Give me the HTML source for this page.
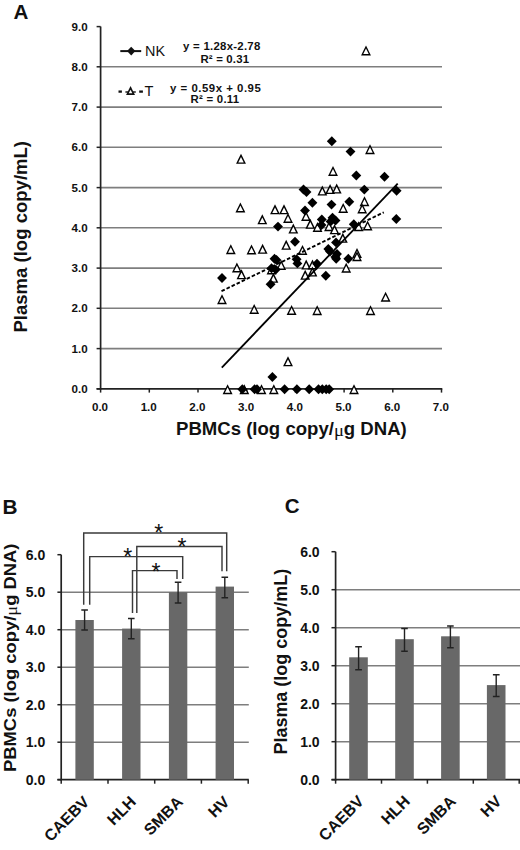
<!DOCTYPE html>
<html><head><meta charset="utf-8"><title>Figure</title>
<style>
html,body{margin:0;padding:0;background:#fff;}
body{width:520px;height:850px;overflow:hidden;}
svg{display:block;}
text{font-family:"Liberation Sans", sans-serif;fill:#111;}
</style></head>
<body>
<svg width="520" height="850" viewBox="0 0 520 850">
<rect width="520" height="850" fill="#fff"/>
<text x="13.4" y="18.6" font-size="20.6" font-weight="bold">A</text>
<line x1="100.6" y1="348.6" x2="442.0" y2="348.6" stroke="#7e7e7e" stroke-width="1.6"/>
<line x1="100.6" y1="308.3" x2="442.0" y2="308.3" stroke="#7e7e7e" stroke-width="1.6"/>
<line x1="100.6" y1="268.1" x2="442.0" y2="268.1" stroke="#7e7e7e" stroke-width="1.6"/>
<line x1="100.6" y1="227.8" x2="442.0" y2="227.8" stroke="#7e7e7e" stroke-width="1.6"/>
<line x1="100.6" y1="187.6" x2="442.0" y2="187.6" stroke="#7e7e7e" stroke-width="1.6"/>
<line x1="100.6" y1="147.3" x2="442.0" y2="147.3" stroke="#7e7e7e" stroke-width="1.6"/>
<line x1="100.6" y1="107.1" x2="442.0" y2="107.1" stroke="#7e7e7e" stroke-width="1.6"/>
<line x1="100.6" y1="66.8" x2="442.0" y2="66.8" stroke="#7e7e7e" stroke-width="1.6"/>
<line x1="100.6" y1="26.6" x2="100.6" y2="389.6" stroke="#222" stroke-width="1.7"/>
<line x1="96.6" y1="388.8" x2="100.6" y2="388.8" stroke="#222" stroke-width="1.5"/>
<text x="87.6" y="392.9" font-size="11.6" font-weight="bold" text-anchor="end">0.0</text>
<line x1="96.6" y1="348.6" x2="100.6" y2="348.6" stroke="#222" stroke-width="1.5"/>
<text x="87.6" y="352.7" font-size="11.6" font-weight="bold" text-anchor="end">1.0</text>
<line x1="96.6" y1="308.3" x2="100.6" y2="308.3" stroke="#222" stroke-width="1.5"/>
<text x="87.6" y="312.4" font-size="11.6" font-weight="bold" text-anchor="end">2.0</text>
<line x1="96.6" y1="268.1" x2="100.6" y2="268.1" stroke="#222" stroke-width="1.5"/>
<text x="87.6" y="272.2" font-size="11.6" font-weight="bold" text-anchor="end">3.0</text>
<line x1="96.6" y1="227.8" x2="100.6" y2="227.8" stroke="#222" stroke-width="1.5"/>
<text x="87.6" y="231.9" font-size="11.6" font-weight="bold" text-anchor="end">4.0</text>
<line x1="96.6" y1="187.6" x2="100.6" y2="187.6" stroke="#222" stroke-width="1.5"/>
<text x="87.6" y="191.7" font-size="11.6" font-weight="bold" text-anchor="end">5.0</text>
<line x1="96.6" y1="147.3" x2="100.6" y2="147.3" stroke="#222" stroke-width="1.5"/>
<text x="87.6" y="151.4" font-size="11.6" font-weight="bold" text-anchor="end">6.0</text>
<line x1="96.6" y1="107.1" x2="100.6" y2="107.1" stroke="#222" stroke-width="1.5"/>
<text x="87.6" y="111.2" font-size="11.6" font-weight="bold" text-anchor="end">7.0</text>
<line x1="96.6" y1="66.8" x2="100.6" y2="66.8" stroke="#222" stroke-width="1.5"/>
<text x="87.6" y="70.9" font-size="11.6" font-weight="bold" text-anchor="end">8.0</text>
<line x1="96.6" y1="26.6" x2="100.6" y2="26.6" stroke="#222" stroke-width="1.5"/>
<text x="87.6" y="30.7" font-size="11.6" font-weight="bold" text-anchor="end">9.0</text>
<line x1="96.6" y1="388.8" x2="442.3" y2="388.8" stroke="#222" stroke-width="1.7"/>
<line x1="100.6" y1="388.8" x2="100.6" y2="392.6" stroke="#222" stroke-width="1.5"/>
<text x="100.0" y="410.8" font-size="11.6" font-weight="bold" text-anchor="middle">0.0</text>
<line x1="149.3" y1="388.8" x2="149.3" y2="392.6" stroke="#222" stroke-width="1.5"/>
<text x="148.7" y="410.8" font-size="11.6" font-weight="bold" text-anchor="middle">1.0</text>
<line x1="198.0" y1="388.8" x2="198.0" y2="392.6" stroke="#222" stroke-width="1.5"/>
<text x="197.4" y="410.8" font-size="11.6" font-weight="bold" text-anchor="middle">2.0</text>
<line x1="246.7" y1="388.8" x2="246.7" y2="392.6" stroke="#222" stroke-width="1.5"/>
<text x="246.1" y="410.8" font-size="11.6" font-weight="bold" text-anchor="middle">3.0</text>
<line x1="295.4" y1="388.8" x2="295.4" y2="392.6" stroke="#222" stroke-width="1.5"/>
<text x="294.8" y="410.8" font-size="11.6" font-weight="bold" text-anchor="middle">4.0</text>
<line x1="344.1" y1="388.8" x2="344.1" y2="392.6" stroke="#222" stroke-width="1.5"/>
<text x="343.5" y="410.8" font-size="11.6" font-weight="bold" text-anchor="middle">5.0</text>
<line x1="392.8" y1="388.8" x2="392.8" y2="392.6" stroke="#222" stroke-width="1.5"/>
<text x="392.2" y="410.8" font-size="11.6" font-weight="bold" text-anchor="middle">6.0</text>
<line x1="441.5" y1="388.8" x2="441.5" y2="392.6" stroke="#222" stroke-width="1.5"/>
<text x="440.9" y="410.8" font-size="11.6" font-weight="bold" text-anchor="middle">7.0</text>
<text x="176.0" y="435.0" font-size="17.5" font-weight="bold" textLength="230.8" lengthAdjust="spacingAndGlyphs">PBMCs (log copy/<tspan font-family="Liberation Serif" font-weight="normal" dy="0.8">μ</tspan><tspan dy="-0.8">g DNA)</tspan></text>
<text transform="translate(27.0,332.5) rotate(-90)" x="0" y="0" font-size="18.3" font-weight="bold" textLength="191.5" lengthAdjust="spacingAndGlyphs">Plasma (log copy/mL)</text>
<line x1="120.3" y1="51.1" x2="141.2" y2="51.1" stroke="#111" stroke-width="2"/>
<path d="M131.2 46.8 L135.4 51.1 L131.2 55.4 L127 51.1Z" fill="#111"/>
<text x="145.0" y="56.0" font-size="14.4">NK</text>
<line x1="118.5" y1="91.6" x2="121.9" y2="91.6" stroke="#111" stroke-width="2.3"/>
<line x1="139.2" y1="91.6" x2="142.9" y2="91.6" stroke="#111" stroke-width="2.3"/>
<line x1="125.4" y1="92.0" x2="135.8" y2="92.0" stroke="#111" stroke-width="1.4"/>
<path d="M130.55 85.89L135.01 94.91L126.09 94.91Z" fill="#111"/><path d="M130.55 89.64L128.76 93.25L132.34 93.25Z" fill="#fff"/>
<text x="144.5" y="95.7" font-size="14.6">T</text>
<text x="183.0" y="50.0" font-size="11.4" font-weight="bold" textLength="77.3" lengthAdjust="spacing">y = 1.28x-2.78</text>
<text x="200.4" y="62.9" font-size="11.4" font-weight="bold" textLength="48.7" lengthAdjust="spacing">R² = 0.31</text>
<text x="170.0" y="92.3" font-size="11.4" font-weight="bold" textLength="90.8" lengthAdjust="spacing">y = 0.59x + 0.95</text>
<text x="190.4" y="103.0" font-size="11.4" font-weight="bold" textLength="48.8" lengthAdjust="spacing">R² = 0.11</text>
<path d="M366.00 45.40L370.94 55.40L361.06 55.40Z" fill="#000"/><path d="M366.00 48.52L363.28 54.01L368.72 54.01Z" fill="#fff"/>
<path d="M370.00 144.20L374.94 154.20L365.06 154.20Z" fill="#000"/><path d="M370.00 147.32L367.28 152.81L372.72 152.81Z" fill="#fff"/>
<path d="M241.00 153.80L245.94 163.80L236.06 163.80Z" fill="#000"/><path d="M241.00 156.92L238.28 162.41L243.72 162.41Z" fill="#fff"/>
<path d="M333.00 166.00L337.94 176.00L328.06 176.00Z" fill="#000"/><path d="M333.00 169.12L330.28 174.61L335.72 174.61Z" fill="#fff"/>
<path d="M240.40 202.40L245.34 212.40L235.46 212.40Z" fill="#000"/><path d="M240.40 205.52L237.68 211.01L243.12 211.01Z" fill="#fff"/>
<path d="M275.00 204.30L279.94 214.30L270.06 214.30Z" fill="#000"/><path d="M275.00 207.42L272.28 212.91L277.72 212.91Z" fill="#fff"/>
<path d="M284.00 204.30L288.94 214.30L279.06 214.30Z" fill="#000"/><path d="M284.00 207.42L281.28 212.91L286.72 212.91Z" fill="#fff"/>
<path d="M262.30 214.30L267.24 224.30L257.36 224.30Z" fill="#000"/><path d="M262.30 217.42L259.58 222.91L265.02 222.91Z" fill="#fff"/>
<path d="M288.00 213.00L292.94 223.00L283.06 223.00Z" fill="#000"/><path d="M288.00 216.12L285.28 221.61L290.72 221.61Z" fill="#fff"/>
<path d="M322.30 185.60L327.24 195.60L317.36 195.60Z" fill="#000"/><path d="M322.30 188.72L319.58 194.21L325.02 194.21Z" fill="#fff"/>
<path d="M330.10 184.10L335.04 194.10L325.16 194.10Z" fill="#000"/><path d="M330.10 187.22L327.38 192.71L332.82 192.71Z" fill="#fff"/>
<path d="M336.70 183.60L341.64 193.60L331.76 193.60Z" fill="#000"/><path d="M336.70 186.72L333.98 192.21L339.42 192.21Z" fill="#fff"/>
<path d="M343.20 203.00L348.14 213.00L338.26 213.00Z" fill="#000"/><path d="M343.20 206.12L340.48 211.61L345.92 211.61Z" fill="#fff"/>
<path d="M364.50 196.20L369.44 206.20L359.56 206.20Z" fill="#000"/><path d="M364.50 199.32L361.78 204.81L367.22 204.81Z" fill="#fff"/>
<path d="M362.20 203.40L367.14 213.40L357.26 213.40Z" fill="#000"/><path d="M362.20 206.52L359.48 212.01L364.92 212.01Z" fill="#fff"/>
<path d="M306.00 211.00L310.94 221.00L301.06 221.00Z" fill="#000"/><path d="M306.00 214.12L303.28 219.61L308.72 219.61Z" fill="#fff"/>
<path d="M310.30 218.80L315.24 228.80L305.36 228.80Z" fill="#000"/><path d="M310.30 221.92L307.58 227.41L313.02 227.41Z" fill="#fff"/>
<path d="M317.50 222.00L322.44 232.00L312.56 232.00Z" fill="#000"/><path d="M317.50 225.12L314.78 230.61L320.22 230.61Z" fill="#fff"/>
<path d="M329.00 221.20L333.94 231.20L324.06 231.20Z" fill="#000"/><path d="M329.00 224.32L326.28 229.81L331.72 229.81Z" fill="#fff"/>
<path d="M334.50 224.30L339.44 234.30L329.56 234.30Z" fill="#000"/><path d="M334.50 227.42L331.78 232.91L337.22 232.91Z" fill="#fff"/>
<path d="M358.60 221.20L363.54 231.20L353.66 231.20Z" fill="#000"/><path d="M358.60 224.32L355.88 229.81L361.32 229.81Z" fill="#fff"/>
<path d="M367.60 220.40L372.54 230.40L362.66 230.40Z" fill="#000"/><path d="M367.60 223.52L364.88 229.01L370.32 229.01Z" fill="#fff"/>
<path d="M293.30 223.60L298.24 233.60L288.36 233.60Z" fill="#000"/><path d="M293.30 226.72L290.58 232.21L296.02 232.21Z" fill="#fff"/>
<path d="M230.80 244.20L235.74 254.20L225.86 254.20Z" fill="#000"/><path d="M230.80 247.32L228.08 252.81L233.52 252.81Z" fill="#fff"/>
<path d="M251.50 244.50L256.44 254.50L246.56 254.50Z" fill="#000"/><path d="M251.50 247.62L248.78 253.11L254.22 253.11Z" fill="#fff"/>
<path d="M262.60 243.80L267.54 253.80L257.66 253.80Z" fill="#000"/><path d="M262.60 246.92L259.88 252.41L265.32 252.41Z" fill="#fff"/>
<path d="M286.20 239.80L291.14 249.80L281.26 249.80Z" fill="#000"/><path d="M286.20 242.92L283.48 248.41L288.92 248.41Z" fill="#fff"/>
<path d="M302.50 245.00L307.44 255.00L297.56 255.00Z" fill="#000"/><path d="M302.50 248.12L299.78 253.61L305.22 253.61Z" fill="#fff"/>
<path d="M342.80 232.80L347.74 242.80L337.86 242.80Z" fill="#000"/><path d="M342.80 235.92L340.08 241.41L345.52 241.41Z" fill="#fff"/>
<path d="M357.00 248.00L361.94 258.00L352.06 258.00Z" fill="#000"/><path d="M357.00 251.12L354.28 256.61L359.72 256.61Z" fill="#fff"/>
<path d="M357.00 251.20L361.94 261.20L352.06 261.20Z" fill="#000"/><path d="M357.00 254.32L354.28 259.81L359.72 259.81Z" fill="#fff"/>
<path d="M236.90 262.40L241.84 272.40L231.96 272.40Z" fill="#000"/><path d="M236.90 265.52L234.18 271.01L239.62 271.01Z" fill="#fff"/>
<path d="M241.50 269.30L246.44 279.30L236.56 279.30Z" fill="#000"/><path d="M241.50 272.42L238.78 277.91L244.22 277.91Z" fill="#fff"/>
<path d="M281.20 260.00L286.14 270.00L276.26 270.00Z" fill="#000"/><path d="M281.20 263.12L278.48 268.61L283.92 268.61Z" fill="#fff"/>
<path d="M306.20 259.60L311.14 269.60L301.26 269.60Z" fill="#000"/><path d="M306.20 262.72L303.48 268.21L308.92 268.21Z" fill="#fff"/>
<path d="M312.50 259.40L317.44 269.40L307.56 269.40Z" fill="#000"/><path d="M312.50 262.52L309.78 268.01L315.22 268.01Z" fill="#fff"/>
<path d="M305.20 269.80L310.14 279.80L300.26 279.80Z" fill="#000"/><path d="M305.20 272.92L302.48 278.41L307.92 278.41Z" fill="#fff"/>
<path d="M312.40 266.60L317.34 276.60L307.46 276.60Z" fill="#000"/><path d="M312.40 269.72L309.68 275.21L315.12 275.21Z" fill="#fff"/>
<path d="M273.40 272.80L278.34 282.80L268.46 282.80Z" fill="#000"/><path d="M273.40 275.92L270.68 281.41L276.12 281.41Z" fill="#fff"/>
<path d="M346.20 262.70L351.14 272.70L341.26 272.70Z" fill="#000"/><path d="M346.20 265.82L343.48 271.31L348.92 271.31Z" fill="#fff"/>
<path d="M222.00 294.20L226.94 304.20L217.06 304.20Z" fill="#000"/><path d="M222.00 297.32L219.28 302.81L224.72 302.81Z" fill="#fff"/>
<path d="M254.20 303.90L259.14 313.90L249.26 313.90Z" fill="#000"/><path d="M254.20 307.02L251.48 312.51L256.92 312.51Z" fill="#fff"/>
<path d="M291.60 305.00L296.54 315.00L286.66 315.00Z" fill="#000"/><path d="M291.60 308.12L288.88 313.61L294.32 313.61Z" fill="#fff"/>
<path d="M317.20 305.20L322.14 315.20L312.26 315.20Z" fill="#000"/><path d="M317.20 308.32L314.48 313.81L319.92 313.81Z" fill="#fff"/>
<path d="M370.50 305.20L375.44 315.20L365.56 315.20Z" fill="#000"/><path d="M370.50 308.32L367.78 313.81L373.22 313.81Z" fill="#fff"/>
<path d="M385.60 291.70L390.54 301.70L380.66 301.70Z" fill="#000"/><path d="M385.60 294.82L382.88 300.31L388.32 300.31Z" fill="#fff"/>
<path d="M288.00 356.30L292.94 366.30L283.06 366.30Z" fill="#000"/><path d="M288.00 359.42L285.28 364.91L290.72 364.91Z" fill="#fff"/>
<path d="M271.50 264.40L276.44 274.40L266.56 274.40Z" fill="#000"/><path d="M271.50 267.52L268.78 273.01L274.22 273.01Z" fill="#fff"/>
<path d="M227.60 384.20L232.54 394.20L222.66 394.20Z" fill="#000"/><path d="M227.60 387.32L224.88 392.81L230.32 392.81Z" fill="#fff"/>
<path d="M244.30 384.20L249.24 394.20L239.36 394.20Z" fill="#000"/><path d="M244.30 387.32L241.58 392.81L247.02 392.81Z" fill="#fff"/>
<path d="M261.50 384.20L266.44 394.20L256.56 394.20Z" fill="#000"/><path d="M261.50 387.32L258.78 392.81L264.22 392.81Z" fill="#fff"/>
<path d="M273.80 384.20L278.74 394.20L268.86 394.20Z" fill="#000"/><path d="M273.80 387.32L271.08 392.81L276.52 392.81Z" fill="#fff"/>
<path d="M354.00 384.20L358.94 394.20L349.06 394.20Z" fill="#000"/><path d="M354.00 387.32L351.28 392.81L356.72 392.81Z" fill="#fff"/>
<path d="M331.80 136.35L336.75 141.30L331.80 146.25L326.85 141.30Z" fill="#000"/>
<path d="M350.50 146.65L355.45 151.60L350.50 156.55L345.55 151.60Z" fill="#000"/>
<path d="M356.30 170.55L361.25 175.50L356.30 180.45L351.35 175.50Z" fill="#000"/>
<path d="M384.50 171.75L389.45 176.70L384.50 181.65L379.55 176.70Z" fill="#000"/>
<path d="M303.50 184.55L308.45 189.50L303.50 194.45L298.55 189.50Z" fill="#000"/>
<path d="M306.50 187.05L311.45 192.00L306.50 196.95L301.55 192.00Z" fill="#000"/>
<path d="M364.30 184.65L369.25 189.60L364.30 194.55L359.35 189.60Z" fill="#000"/>
<path d="M396.60 185.85L401.55 190.80L396.60 195.75L391.65 190.80Z" fill="#000"/>
<path d="M312.40 197.75L317.35 202.70L312.40 207.65L307.45 202.70Z" fill="#000"/>
<path d="M331.50 199.65L336.45 204.60L331.50 209.55L326.55 204.60Z" fill="#000"/>
<path d="M349.30 196.85L354.25 201.80L349.30 206.75L344.35 201.80Z" fill="#000"/>
<path d="M305.00 205.55L309.95 210.50L305.00 215.45L300.05 210.50Z" fill="#000"/>
<path d="M396.30 214.05L401.25 219.00L396.30 223.95L391.35 219.00Z" fill="#000"/>
<path d="M321.80 214.55L326.75 219.50L321.80 224.45L316.85 219.50Z" fill="#000"/>
<path d="M321.50 220.05L326.45 225.00L321.50 229.95L316.55 225.00Z" fill="#000"/>
<path d="M332.50 212.85L337.45 217.80L332.50 222.75L327.55 217.80Z" fill="#000"/>
<path d="M335.50 215.55L340.45 220.50L335.50 225.45L330.55 220.50Z" fill="#000"/>
<path d="M330.60 216.55L335.55 221.50L330.60 226.45L325.65 221.50Z" fill="#000"/>
<path d="M353.80 219.25L358.75 224.20L353.80 229.15L348.85 224.20Z" fill="#000"/>
<path d="M278.00 221.65L282.95 226.60L278.00 231.55L273.05 226.60Z" fill="#000"/>
<path d="M295.00 236.85L299.95 241.80L295.00 246.75L290.05 241.80Z" fill="#000"/>
<path d="M328.30 244.05L333.25 249.00L328.30 253.95L323.35 249.00Z" fill="#000"/>
<path d="M336.00 237.45L340.95 242.40L336.00 247.35L331.05 242.40Z" fill="#000"/>
<path d="M337.00 249.05L341.95 254.00L337.00 258.95L332.05 254.00Z" fill="#000"/>
<path d="M348.30 253.85L353.25 258.80L348.30 263.75L343.35 258.80Z" fill="#000"/>
<path d="M276.50 255.05L281.45 260.00L276.50 264.95L271.55 260.00Z" fill="#000"/>
<path d="M296.60 254.25L301.55 259.20L296.60 264.15L291.65 259.20Z" fill="#000"/>
<path d="M297.40 258.45L302.35 263.40L297.40 268.35L292.45 263.40Z" fill="#000"/>
<path d="M336.20 253.85L341.15 258.80L336.20 263.75L331.25 258.80Z" fill="#000"/>
<path d="M274.50 253.85L279.45 258.80L274.50 263.75L269.55 258.80Z" fill="#000"/>
<path d="M275.80 264.65L280.75 269.60L275.80 274.55L270.85 269.60Z" fill="#000"/>
<path d="M317.00 258.85L321.95 263.80L317.00 268.75L312.05 263.80Z" fill="#000"/>
<path d="M271.50 263.35L276.45 268.30L271.50 273.25L266.55 268.30Z" fill="#000"/>
<path d="M222.00 273.05L226.95 278.00L222.00 282.95L217.05 278.00Z" fill="#000"/>
<path d="M270.60 279.25L275.55 284.20L270.60 289.15L265.65 284.20Z" fill="#000"/>
<path d="M325.80 270.85L330.75 275.80L325.80 280.75L320.85 275.80Z" fill="#000"/>
<path d="M330.00 246.55L334.95 251.50L330.00 256.45L325.05 251.50Z" fill="#000"/>
<path d="M335.40 251.95L340.35 256.90L335.40 261.85L330.45 256.90Z" fill="#000"/>
<path d="M272.40 372.05L277.35 377.00L272.40 381.95L267.45 377.00Z" fill="#000"/>
<path d="M242.30 384.25L247.25 389.20L242.30 394.15L237.35 389.20Z" fill="#000"/>
<path d="M254.60 384.25L259.55 389.20L254.60 394.15L249.65 389.20Z" fill="#000"/>
<path d="M257.00 384.25L261.95 389.20L257.00 394.15L252.05 389.20Z" fill="#000"/>
<path d="M284.60 384.25L289.55 389.20L284.60 394.15L279.65 389.20Z" fill="#000"/>
<path d="M296.90 384.25L301.85 389.20L296.90 394.15L291.95 389.20Z" fill="#000"/>
<path d="M309.20 384.25L314.15 389.20L309.20 394.15L304.25 389.20Z" fill="#000"/>
<path d="M318.50 384.25L323.45 389.20L318.50 394.15L313.55 389.20Z" fill="#000"/>
<path d="M322.30 384.25L327.25 389.20L322.30 394.15L317.35 389.20Z" fill="#000"/>
<path d="M326.20 384.25L331.15 389.20L326.20 394.15L321.25 389.20Z" fill="#000"/>
<path d="M329.20 384.25L334.15 389.20L329.20 394.15L324.25 389.20Z" fill="#000"/>
<line x1="221.8" y1="367.6" x2="397.7" y2="183.6" stroke="#000" stroke-width="1.8"/>
<line x1="221.5" y1="291.2" x2="383.8" y2="212.3" stroke="#000" stroke-width="1.9" stroke-dasharray="3.6,2.0"/>
<text x="2.6" y="513.6" font-size="20.8" font-weight="bold">B</text>
<line x1="61.2" y1="742.2" x2="248.8" y2="742.2" stroke="#7e7e7e" stroke-width="1.6"/>
<line x1="61.2" y1="704.7" x2="248.8" y2="704.7" stroke="#7e7e7e" stroke-width="1.6"/>
<line x1="61.2" y1="667.2" x2="248.8" y2="667.2" stroke="#7e7e7e" stroke-width="1.6"/>
<line x1="61.2" y1="629.7" x2="248.8" y2="629.7" stroke="#7e7e7e" stroke-width="1.6"/>
<line x1="61.2" y1="592.2" x2="248.8" y2="592.2" stroke="#7e7e7e" stroke-width="1.6"/>
<line x1="61.2" y1="554.7" x2="61.2" y2="780.5" stroke="#222" stroke-width="1.7"/>
<line x1="57.4" y1="779.7" x2="61.2" y2="779.7" stroke="#222" stroke-width="1.5"/>
<text x="45.3" y="784.7" font-size="14" font-weight="bold" text-anchor="end">0.0</text>
<line x1="57.4" y1="742.2" x2="61.2" y2="742.2" stroke="#222" stroke-width="1.5"/>
<text x="45.3" y="747.2" font-size="14" font-weight="bold" text-anchor="end">1.0</text>
<line x1="57.4" y1="704.7" x2="61.2" y2="704.7" stroke="#222" stroke-width="1.5"/>
<text x="45.3" y="709.7" font-size="14" font-weight="bold" text-anchor="end">2.0</text>
<line x1="57.4" y1="667.2" x2="61.2" y2="667.2" stroke="#222" stroke-width="1.5"/>
<text x="45.3" y="672.2" font-size="14" font-weight="bold" text-anchor="end">3.0</text>
<line x1="57.4" y1="629.7" x2="61.2" y2="629.7" stroke="#222" stroke-width="1.5"/>
<text x="45.3" y="634.7" font-size="14" font-weight="bold" text-anchor="end">4.0</text>
<line x1="57.4" y1="592.2" x2="61.2" y2="592.2" stroke="#222" stroke-width="1.5"/>
<text x="45.3" y="597.2" font-size="14" font-weight="bold" text-anchor="end">5.0</text>
<line x1="57.4" y1="554.7" x2="61.2" y2="554.7" stroke="#222" stroke-width="1.5"/>
<text x="45.3" y="559.7" font-size="14" font-weight="bold" text-anchor="end">6.0</text>
<line x1="57.4" y1="779.7" x2="248.8" y2="779.7" stroke="#222" stroke-width="1.7"/>
<line x1="61.2" y1="779.7" x2="61.2" y2="783.7" stroke="#222" stroke-width="1.5"/>
<line x1="108.0" y1="779.7" x2="108.0" y2="783.7" stroke="#222" stroke-width="1.5"/>
<line x1="154.7" y1="779.7" x2="154.7" y2="783.7" stroke="#222" stroke-width="1.5"/>
<line x1="201.4" y1="779.7" x2="201.4" y2="783.7" stroke="#222" stroke-width="1.5"/>
<line x1="248.2" y1="779.7" x2="248.2" y2="783.7" stroke="#222" stroke-width="1.5"/>
<rect x="75.4" y="620.0" width="18.4" height="159.8" fill="#686868"/>
<path d="M84.6 610V630M81.3 610H87.9M81.3 630H87.9" stroke="#222" stroke-width="1.4" fill="none"/>
<rect x="122.1" y="628.6" width="18.4" height="151.1" fill="#686868"/>
<path d="M131.3 618.5V638.8M128.0 618.5H134.6M128.0 638.8H134.6" stroke="#222" stroke-width="1.4" fill="none"/>
<rect x="168.9" y="592.2" width="18.4" height="187.5" fill="#686868"/>
<path d="M178.1 582.3V603M174.8 582.3H181.4M174.8 603H181.4" stroke="#222" stroke-width="1.4" fill="none"/>
<rect x="215.6" y="586.6" width="18.4" height="193.1" fill="#686868"/>
<path d="M224.8 577.3V597.7M221.5 577.3H228.1M221.5 597.7H228.1" stroke="#222" stroke-width="1.4" fill="none"/>
<text transform="translate(90.3,802.9) rotate(-45)" font-size="16" font-weight="bold" text-anchor="end">CAEBV</text>
<text transform="translate(137.0,802.9) rotate(-45)" font-size="16" font-weight="bold" text-anchor="end">HLH</text>
<text transform="translate(183.8,802.9) rotate(-45)" font-size="16" font-weight="bold" text-anchor="end">SMBA</text>
<text transform="translate(230.5,802.9) rotate(-45)" font-size="16" font-weight="bold" text-anchor="end">HV</text>
<text transform="translate(15.9,772.0) rotate(-90)" font-size="17" font-weight="bold" textLength="228.5" lengthAdjust="spacingAndGlyphs">PBMCs (log copy/<tspan font-family="Liberation Serif" font-weight="normal" dy="0.8">μ</tspan><tspan dy="-0.8">g DNA)</tspan></text>
<path d="M83.7 604.8V533.0H226.7V571.2" stroke="#3a3a3a" stroke-width="1.45" fill="none"/>
<path d="M136.8 613.1V546.5H222.0V571.2" stroke="#3a3a3a" stroke-width="1.45" fill="none"/>
<path d="M89.7 604.8V556.6H182.7V579.0" stroke="#3a3a3a" stroke-width="1.45" fill="none"/>
<path d="M132.5 613.1V570.6H177.0V579.0" stroke="#3a3a3a" stroke-width="1.45" fill="none"/>
<text x="158.8" y="541.4" font-size="23" text-anchor="middle">*</text>
<text x="181.9" y="555.2" font-size="23" text-anchor="middle">*</text>
<text x="127.7" y="565.4" font-size="23" text-anchor="middle">*</text>
<text x="156" y="579.7" font-size="23" text-anchor="middle">*</text>
<text x="284.7" y="513.4" font-size="20.5" font-weight="bold">C</text>
<line x1="335.6" y1="741.7" x2="520" y2="741.7" stroke="#7e7e7e" stroke-width="1.6"/>
<line x1="335.6" y1="703.7" x2="520" y2="703.7" stroke="#7e7e7e" stroke-width="1.6"/>
<line x1="335.6" y1="665.7" x2="520" y2="665.7" stroke="#7e7e7e" stroke-width="1.6"/>
<line x1="335.6" y1="627.7" x2="520" y2="627.7" stroke="#7e7e7e" stroke-width="1.6"/>
<line x1="335.6" y1="589.7" x2="520" y2="589.7" stroke="#7e7e7e" stroke-width="1.6"/>
<line x1="335.6" y1="551.7" x2="335.6" y2="780.5" stroke="#222" stroke-width="1.7"/>
<line x1="331.5" y1="779.7" x2="335.6" y2="779.7" stroke="#222" stroke-width="1.5"/>
<text x="319.6" y="784.7" font-size="14" font-weight="bold" text-anchor="end">0.0</text>
<line x1="331.5" y1="741.7" x2="335.6" y2="741.7" stroke="#222" stroke-width="1.5"/>
<text x="319.6" y="746.7" font-size="14" font-weight="bold" text-anchor="end">1.0</text>
<line x1="331.5" y1="703.7" x2="335.6" y2="703.7" stroke="#222" stroke-width="1.5"/>
<text x="319.6" y="708.7" font-size="14" font-weight="bold" text-anchor="end">2.0</text>
<line x1="331.5" y1="665.7" x2="335.6" y2="665.7" stroke="#222" stroke-width="1.5"/>
<text x="319.6" y="670.7" font-size="14" font-weight="bold" text-anchor="end">3.0</text>
<line x1="331.5" y1="627.7" x2="335.6" y2="627.7" stroke="#222" stroke-width="1.5"/>
<text x="319.6" y="632.7" font-size="14" font-weight="bold" text-anchor="end">4.0</text>
<line x1="331.5" y1="589.7" x2="335.6" y2="589.7" stroke="#222" stroke-width="1.5"/>
<text x="319.6" y="594.7" font-size="14" font-weight="bold" text-anchor="end">5.0</text>
<line x1="331.5" y1="551.7" x2="335.6" y2="551.7" stroke="#222" stroke-width="1.5"/>
<text x="319.6" y="556.7" font-size="14" font-weight="bold" text-anchor="end">6.0</text>
<line x1="331.5" y1="779.7" x2="520" y2="779.7" stroke="#222" stroke-width="1.7"/>
<line x1="335.6" y1="779.7" x2="335.6" y2="783.7" stroke="#222" stroke-width="1.5"/>
<line x1="381.5" y1="779.7" x2="381.5" y2="783.7" stroke="#222" stroke-width="1.5"/>
<line x1="427.4" y1="779.7" x2="427.4" y2="783.7" stroke="#222" stroke-width="1.5"/>
<line x1="473.3" y1="779.7" x2="473.3" y2="783.7" stroke="#222" stroke-width="1.5"/>
<line x1="519.2" y1="779.7" x2="519.2" y2="783.7" stroke="#222" stroke-width="1.5"/>
<rect x="349.2" y="657.3" width="18.6" height="122.4" fill="#686868"/>
<path d="M358.6 646.7V669.8M355.2 646.7H361.9M355.2 669.8H361.9" stroke="#222" stroke-width="1.4" fill="none"/>
<rect x="395.2" y="639.2" width="18.6" height="140.5" fill="#686868"/>
<path d="M404.5 628.5V651.3M401.2 628.5H407.8M401.2 651.3H407.8" stroke="#222" stroke-width="1.4" fill="none"/>
<rect x="441.1" y="636.3" width="18.6" height="143.4" fill="#686868"/>
<path d="M450.4 626V647.7M447.1 626H453.7M447.1 647.7H453.7" stroke="#222" stroke-width="1.4" fill="none"/>
<rect x="486.9" y="685.1" width="18.6" height="94.6" fill="#686868"/>
<path d="M496.2 674.8V696.5M492.9 674.8H499.6M492.9 696.5H499.6" stroke="#222" stroke-width="1.4" fill="none"/>
<text transform="translate(364.9,802.3) rotate(-45)" font-size="16" font-weight="bold" text-anchor="end">CAEBV</text>
<text transform="translate(410.9,802.3) rotate(-45)" font-size="16" font-weight="bold" text-anchor="end">HLH</text>
<text transform="translate(456.8,802.3) rotate(-45)" font-size="16" font-weight="bold" text-anchor="end">SMBA</text>
<text transform="translate(502.6,802.3) rotate(-45)" font-size="16" font-weight="bold" text-anchor="end">HV</text>
<text transform="translate(287.2,754.6) rotate(-90)" font-size="17.5" font-weight="bold" textLength="185.8" lengthAdjust="spacingAndGlyphs">Plasma (log copy/mL)</text>
</svg>
</body></html>
